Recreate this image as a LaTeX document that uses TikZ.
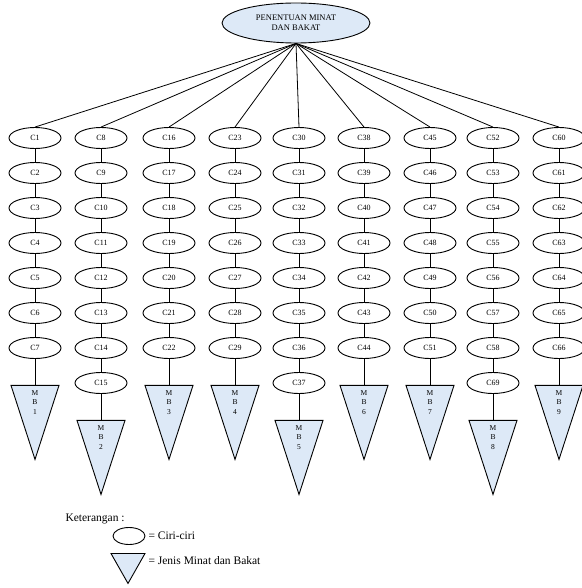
\documentclass[tikz,border=0pt]{standalone}
\usepackage{fontspec}
\setmainfont{Liberation Serif}
\usepackage{tikz}
\usetikzlibrary{positioning}
\usetikzlibrary{shapes.geometric}
\definecolor{biru}{RGB}{221,233,247}
\begin{document}
\begin{tikzpicture}[x=1pt,y=-1pt,node distance=35pt]
\tikzset{ciri/.style={draw,ellipse,line width=0.9pt,minimum width=52pt,minimum height=21pt,inner sep=0pt,font=\fontsize{8}{9}\selectfont}}
\tikzset{jenis/.style={draw,fill=biru,line width=0.9pt,isosceles triangle,shape border rotate=-90,isosceles triangle stretches,minimum width=48pt,minimum height=74pt,inner sep=0pt}}
\tikzset{kode/.style={font=\fontsize{7.5}{9.5}\selectfont,align=center}}
\tikzset{garis/.style={draw,line width=0.8pt}}
\tikzset{teks/.style={anchor=west,font=\fontsize{11.5}{13}\selectfont}}
\useasboundingbox (0,0) rectangle (581,588);
        \node[draw,ellipse,fill=biru,line width=0.9pt,minimum width=148pt,minimum height=40pt,inner sep=0pt,align=center,font=\fontsize{8.5}{10}\selectfont] (root) at (296,23) {PENENTUAN MINAT\\DAN BAKAT};
        % kolom 1
        \node[ciri] (c1) at (35,138) {C1};
        \node[ciri,below of=c1] (c2) {C2};
        \node[ciri,below of=c2] (c3) {C3};
        \node[ciri,below of=c3] (c4) {C4};
        \node[ciri,below of=c4] (c5) {C5};
        \node[ciri,below of=c5] (c6) {C6};
        \node[ciri,below of=c6] (c7) {C7};
        \node[jenis,below=26pt of c7] (mb1) {};
        \node[kode,below=2pt of mb1.north] (t1) {M\\B\\1};
            \path[garis] (c1) -- (c2) -- (c3) -- (c4) -- (c5) -- (c6) -- (c7) -- (mb1);
        % kolom 2
        \node[ciri] (c8) at (101,138) {C8};
        \node[ciri,below of=c8] (c9) {C9};
        \node[ciri,below of=c9] (c10) {C10};
        \node[ciri,below of=c10] (c11) {C11};
        \node[ciri,below of=c11] (c12) {C12};
        \node[ciri,below of=c12] (c13) {C13};
        \node[ciri,below of=c13] (c14) {C14};
        \node[ciri,below of=c14] (c15) {C15};
        \node[jenis,below=26pt of c15] (mb2) {};
        \node[kode,below=2pt of mb2.north] (t2) {M\\B\\2};
            \path[garis] (c8) -- (c9) -- (c10) -- (c11) -- (c12) -- (c13) -- (c14) -- (c15) -- (mb2);
        % kolom 3
        \node[ciri] (c16) at (169,138) {C16};
        \node[ciri,below of=c16] (c17) {C17};
        \node[ciri,below of=c17] (c18) {C18};
        \node[ciri,below of=c18] (c19) {C19};
        \node[ciri,below of=c19] (c20) {C20};
        \node[ciri,below of=c20] (c21) {C21};
        \node[ciri,below of=c21] (c22) {C22};
        \node[jenis,below=26pt of c22] (mb3) {};
        \node[kode,below=2pt of mb3.north] (t3) {M\\B\\3};
            \path[garis] (c16) -- (c17) -- (c18) -- (c19) -- (c20) -- (c21) -- (c22) -- (mb3);
        % kolom 4
        \node[ciri] (c23) at (235,138) {C23};
        \node[ciri,below of=c23] (c24) {C24};
        \node[ciri,below of=c24] (c25) {C25};
        \node[ciri,below of=c25] (c26) {C26};
        \node[ciri,below of=c26] (c27) {C27};
        \node[ciri,below of=c27] (c28) {C28};
        \node[ciri,below of=c28] (c29) {C29};
        \node[jenis,below=26pt of c29] (mb4) {};
        \node[kode,below=2pt of mb4.north] (t4) {M\\B\\4};
            \path[garis] (c23) -- (c24) -- (c25) -- (c26) -- (c27) -- (c28) -- (c29) -- (mb4);
        % kolom 5
        \node[ciri] (c30) at (299,138) {C30};
        \node[ciri,below of=c30] (c31) {C31};
        \node[ciri,below of=c31] (c32) {C32};
        \node[ciri,below of=c32] (c33) {C33};
        \node[ciri,below of=c33] (c34) {C34};
        \node[ciri,below of=c34] (c35) {C35};
        \node[ciri,below of=c35] (c36) {C36};
        \node[ciri,below of=c36] (c37) {C37};
        \node[jenis,below=26pt of c37] (mb5) {};
        \node[kode,below=2pt of mb5.north] (t5) {M\\B\\5};
            \path[garis] (c30) -- (c31) -- (c32) -- (c33) -- (c34) -- (c35) -- (c36) -- (c37) -- (mb5);
        % kolom 6
        \node[ciri] (c38) at (364,138) {C38};
        \node[ciri,below of=c38] (c39) {C39};
        \node[ciri,below of=c39] (c40) {C40};
        \node[ciri,below of=c40] (c41) {C41};
        \node[ciri,below of=c41] (c42) {C42};
        \node[ciri,below of=c42] (c43) {C43};
        \node[ciri,below of=c43] (c44) {C44};
        \node[jenis,below=26pt of c44] (mb6) {};
        \node[kode,below=2pt of mb6.north] (t6) {M\\B\\6};
            \path[garis] (c38) -- (c39) -- (c40) -- (c41) -- (c42) -- (c43) -- (c44) -- (mb6);
        % kolom 7
        \node[ciri] (c45) at (430,138) {C45};
        \node[ciri,below of=c45] (c46) {C46};
        \node[ciri,below of=c46] (c47) {C47};
        \node[ciri,below of=c47] (c48) {C48};
        \node[ciri,below of=c48] (c49) {C49};
        \node[ciri,below of=c49] (c50) {C50};
        \node[ciri,below of=c50] (c51) {C51};
        \node[jenis,below=26pt of c51] (mb7) {};
        \node[kode,below=2pt of mb7.north] (t7) {M\\B\\7};
            \path[garis] (c45) -- (c46) -- (c47) -- (c48) -- (c49) -- (c50) -- (c51) -- (mb7);
        % kolom 8
        \node[ciri] (c52) at (493,138) {C52};
        \node[ciri,below of=c52] (c53) {C53};
        \node[ciri,below of=c53] (c54) {C54};
        \node[ciri,below of=c54] (c55) {C55};
        \node[ciri,below of=c55] (c56) {C56};
        \node[ciri,below of=c56] (c57) {C57};
        \node[ciri,below of=c57] (c58) {C58};
        \node[ciri,below of=c58] (c69) {C69};
        \node[jenis,below=26pt of c69] (mb8) {};
        \node[kode,below=2pt of mb8.north] (t8) {M\\B\\8};
            \path[garis] (c52) -- (c53) -- (c54) -- (c55) -- (c56) -- (c57) -- (c58) -- (c69) -- (mb8);
        % kolom 9
        \node[ciri] (c60) at (559,138) {C60};
        \node[ciri,below of=c60] (c61) {C61};
        \node[ciri,below of=c61] (c62) {C62};
        \node[ciri,below of=c62] (c63) {C63};
        \node[ciri,below of=c63] (c64) {C64};
        \node[ciri,below of=c64] (c65) {C65};
        \node[ciri,below of=c65] (c66) {C66};
        \node[jenis,below=26pt of c66] (mb9) {};
        \node[kode,below=2pt of mb9.north] (t9) {M\\B\\9};
            \path[garis] (c60) -- (c61) -- (c62) -- (c63) -- (c64) -- (c65) -- (c66) -- (mb9);
        % dari akar
            \path[garis] (root.south) -- (c1.north);
            \path[garis] (root.south) -- (c8.north);
            \path[garis] (root.south) -- (c16.north);
            \path[garis] (root.south) -- (c23.north);
            \path[garis] (root.south) -- (c30.north);
            \path[garis] (root.south) -- (c38.north);
            \path[garis] (root.south) -- (c45.north);
            \path[garis] (root.south) -- (c52.north);
            \path[garis] (root.south) -- (c60.north);
        % keterangan
        \node[teks] (ket) at (62,519) {Keterangan :};
        \node[ciri,minimum width=32pt,minimum height=17pt] (lciri) at (129,536) {};
        \node[teks] (tciri) at (145,536) {= Ciri-ciri};
        \node[jenis,minimum width=34pt,minimum height=30pt,anchor=north] (ljenis) at (128,553) {};
        \node[teks] (tjenis) at (145,561) {= Jenis Minat dan Bakat};
\end{tikzpicture}
\end{document}
